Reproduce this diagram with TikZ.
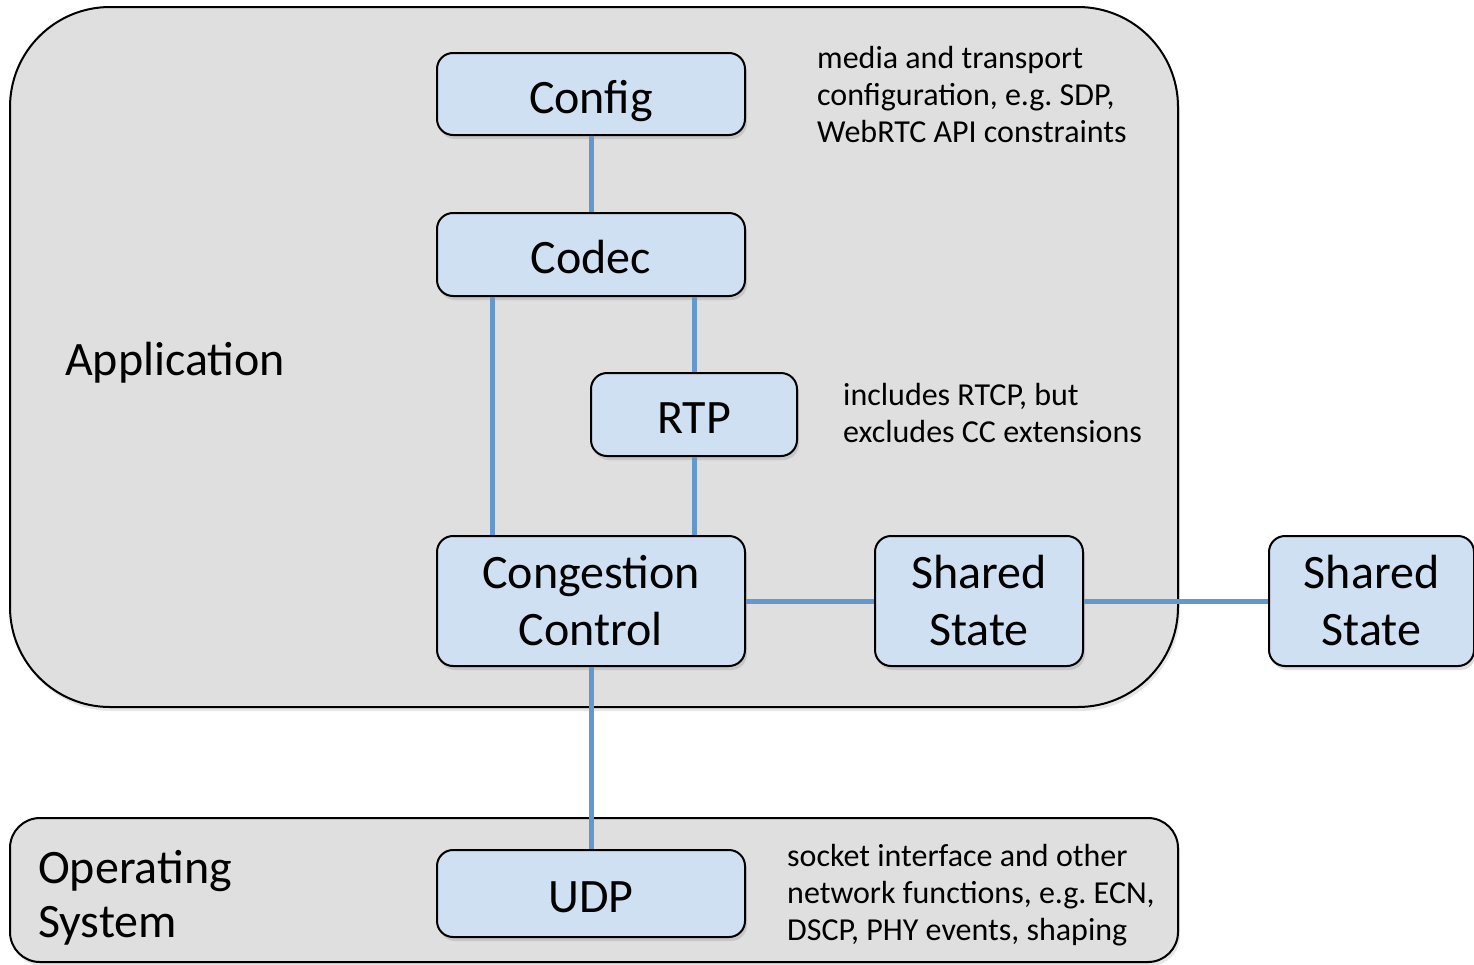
\documentclass[tikz,border=0pt]{standalone}
\usepackage{fontspec}
\setmainfont{Carlito}
\frenchspacing
\usetikzlibrary{positioning, shadows}

\definecolor{boxblue}{RGB}{207,224,242}
\definecolor{layergray}{RGB}{223,223,223}
\definecolor{linkblue}{RGB}{98,152,204}

\begin{document}
\begin{tikzpicture}[x=1pt, y=-1pt,
        block/.style={draw=black, line width=2pt, fill=boxblue, rounded corners=16pt,
            align=center, inner sep=0pt, font=\fontsize{48}{57}\selectfont,
            drop shadow={shadow xshift=2pt, shadow yshift=-4pt, opacity=0.25}},
        oneline/.style={text height=45pt, text depth=7pt},
        layer/.style={draw=black, line width=2pt, fill=layergray,
            drop shadow={shadow xshift=2pt, shadow yshift=-4pt, opacity=0.2}},
        label/.style={inner sep=0pt, align=left, font=\fontsize{48}{54}\selectfont},
        note/.style={inner sep=0pt, align=left, font=\fontsize{32}{37}\selectfont},
        link/.style={draw=linkblue, line width=5pt}]

        \useasboundingbox (0,0) rectangle (1474,964);

        % layers
        \draw[layer, rounded corners=100pt] (10,7) rectangle (1178,707);
        \draw[layer, rounded corners=30pt] (10,818) rectangle (1178,962);

        \node[label, anchor=base west] (app) at (65,375) {Application};
        \node[label, anchor=base west] (os) at (38,937) {Operating\\System};

        % blocks
        \node[block, oneline, minimum width=308pt, minimum height=82pt] (config) at (591,94) {Config};
        \node[block, oneline, minimum width=308pt, minimum height=83pt] (codec) at (591,254.5) {Codec};
        \node[block, oneline, minimum width=206pt, minimum height=83pt] (rtp) at (694,414.5) {RTP};
        \node[block, minimum width=308pt, minimum height=130pt] (cc) at (591,601) {Congestion\\Control};
        \node[block, minimum width=208pt, minimum height=130pt] (shared) at (979,601) {Shared\\State};
        \node[block, minimum width=205pt, minimum height=130pt] (remote) at (1371.5,601) {Shared\\State};
        \node[block, oneline, minimum width=308pt, minimum height=87pt] (udp) at (591,893.5) {UDP};

        % notes (anchored at the last line)
        \node[note, anchor=base west] (confignote) at (817,142) {media and transport\\configuration, e.g. SDP,\\WebRTC API constraints};
        \node[note, anchor=base west] (rtpnote) at (843,442) {includes RTCP, but\\excludes CC extensions};
        \node[note, anchor=base west] (udpnote) at (787,940) {socket interface and other\\network functions, e.g. ECN,\\DSCP, PHY events, shaping};

        % links
        \draw[link] (config) -- (codec);
        \draw[link] ([xshift=-99pt]codec.south) -- ([xshift=-99pt]cc.north);
        \draw[link] (rtp.north |- codec.south) -- (rtp.north);
        \draw[link] (rtp.south) -- (rtp.south |- cc.north);
        \draw[link] (cc) -- (shared);
        \draw[link] (shared) -- (remote);
        \draw[link] (cc) -- (udp);

    \end{tikzpicture}
\end{document}
